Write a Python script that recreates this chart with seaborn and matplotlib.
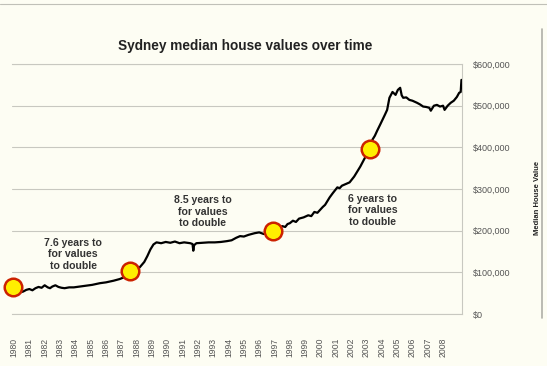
import matplotlib
matplotlib.use("Agg")
import matplotlib.pyplot as plt
from matplotlib.lines import Line2D
from matplotlib.ticker import FuncFormatter
import seaborn as sns
import pandas as pd

# median house value series (year, $k)
years = [1980.0, 1980.2, 1980.4, 1980.6, 1980.8, 1981.0, 1981.2, 1981.4, 1981.6, 1981.8,
         1982.0, 1982.2, 1982.35, 1982.5, 1982.7, 1982.9, 1983.1, 1983.3, 1983.6, 1983.9,
         1984.3, 1984.7, 1985.1, 1985.6, 1986.0, 1986.5, 1986.9, 1987.3, 1987.6, 1987.9,
         1988.2, 1988.5, 1988.7, 1988.9, 1989.1, 1989.3, 1989.6, 1989.9, 1990.2, 1990.5,
         1990.8, 1991.1, 1991.5, 1991.65, 1991.7, 1991.75, 1991.9, 1992.3, 1992.7, 1993.1,
         1993.5, 1993.9, 1994.2, 1994.5, 1994.75, 1995.0, 1995.3, 1995.7, 1996.0, 1996.3,
         1996.6, 1996.9, 1997.3, 1997.5, 1997.7, 1997.85, 1998.0, 1998.2, 1998.4, 1998.6,
         1998.9, 1999.2, 1999.4, 1999.6, 1999.8, 2000.0, 2000.15, 2000.3, 2000.6, 2000.8,
         2001.1, 2001.25, 2001.4, 2001.9, 2002.2, 2002.6, 2002.9, 2003.2, 2003.4, 2003.55,
         2003.7, 2003.9, 2004.2, 2004.35, 2004.5, 2004.7, 2004.9, 2005.05, 2005.2, 2005.3,
         2005.4, 2005.6, 2005.8, 2006.0, 2006.3, 2006.5, 2006.7, 2006.9, 2007.1, 2007.2,
         2007.4, 2007.6, 2007.8, 2008.0, 2008.1, 2008.3, 2008.5, 2008.7, 2008.9, 2009.05,
         2009.15, 2009.2]
values = [60, 55, 52, 54, 58, 60, 57, 62, 65, 63,
          69, 64, 62, 66, 69, 65, 63, 62, 64, 64,
          66, 68, 70, 74, 76, 80, 84, 90, 98, 105,
          112, 125, 139, 155, 167, 172, 170, 173, 171, 174,
          170, 172, 170, 168, 152, 165, 170, 171, 172, 172,
          173, 175, 177, 183, 187, 186, 190, 194, 196, 192,
          195, 199, 205, 211, 209, 216, 218, 224, 221, 229,
          232, 237, 235, 245, 243, 251, 257, 262, 280, 290,
          304, 302, 308, 316, 330, 354, 375, 397, 419, 428,
          440, 455, 478, 490, 519, 533, 526, 538, 543, 525,
          519, 520, 514, 512, 507, 503, 498, 497, 495, 488,
          500, 502, 498, 500, 490, 500, 507, 512, 521, 531,
          533, 562]
values = [v * 1000 for v in values]

# doubling markers
dbl_years = [1979.95, 1987.57, 1996.9, 2003.2]
dbl_values = [65000, 103000, 199000, 397000]

notes = ["7.6 years to\nfor values\nto double",
         "8.5 years to\nfor values\nto double",
         "6 years to\nfor values\nto double"]

tick_years = list(range(1980, 2009))
y_ticks = [0, 100000, 200000, 300000, 400000, 500000, 600000]

bg = "#fdfdf3"
sns.set_style("white")
plt.rcParams["font.family"] = ["Liberation Sans", "DejaVu Sans"]

fig = plt.figure(figsize=(5.47, 3.66), dpi=100, facecolor=bg)
ax = fig.add_axes([0.022, 0.142, 0.823, 0.683])
ax.set_facecolor(bg)

df = pd.DataFrame({"year": years, "value": values})
sns.lineplot(data=df, x="year", y="value", ax=ax, color="black", lw=1.6, zorder=3)

dd = pd.DataFrame({"year": dbl_years, "value": dbl_values})
sns.scatterplot(data=dd, x="year", y="value", ax=ax, s=160, color="#ffee00",
                edgecolor="#cc2200", linewidth=1.8, zorder=5, clip_on=False)

ax.set_xlim(1979.87, 2009.25)
ax.set_ylim(0, 600000)
ax.set_yticks(y_ticks)
ax.yaxis.tick_right()
ax.yaxis.set_major_formatter(FuncFormatter(lambda v, p: f"${v:,.0f}"))
ax.tick_params(axis="y", length=0, pad=8, labelsize=6.5, labelcolor="#555555")
ax.set_xticks(tick_years)
ax.set_xticklabels([str(y) for y in tick_years], rotation=90)
ax.tick_params(axis="x", length=0, pad=17, labelsize=6.2, labelcolor="#555555")
ax.grid(axis="y", color="#c8c8c0", lw=0.8)
for s in ax.spines.values():
    s.set_color("#c8c8c0")
    s.set_linewidth(0.8)
ax.spines["left"].set_visible(False)
ax.set_xlabel("")
ax.set_ylabel("")

note_pos = [(1983.85, 143000), (1992.3, 246000), (2003.4, 249000)]
for (x, y), t in zip(note_pos, notes):
    ax.text(x, y, t, ha="center", va="center", fontsize=7.6, fontweight="bold",
            color="#333333", linespacing=1.2)

fig.text(0.448, 0.874, "Sydney median house values over time", ha="center",
         va="center", fontsize=9.8, fontweight="bold", color="#222222")
fig.text(0.982, 0.46, "Median House Value", rotation=90, ha="center", va="center",
         fontsize=5.5, fontweight="bold", color="#222222")

# frame lines of the original screenshot
fig.add_artist(Line2D([0.99, 0.99], [0.13, 0.92], color="#b0b0a8", lw=1.2))
fig.add_artist(Line2D([0.0, 1.0], [0.988, 0.988], color="#c0c0b8", lw=0.8))

fig.savefig("out.png", dpi=100, facecolor=bg)
